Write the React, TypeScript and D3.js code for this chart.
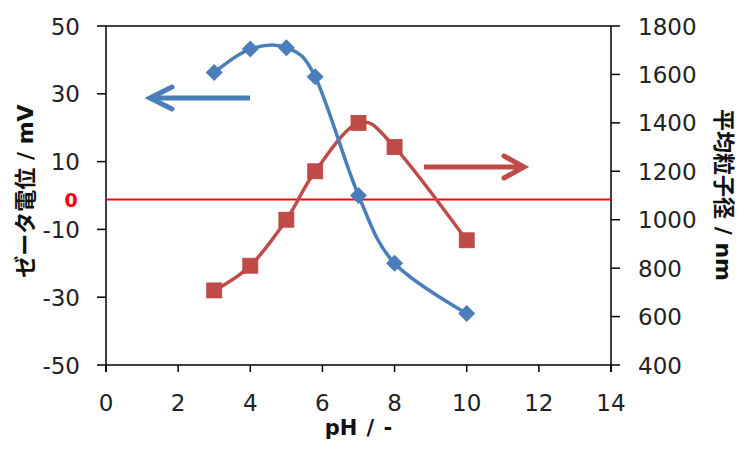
import * as d3 from "d3";

// pH values and readings for both series
const phValues = [3, 4, 5, 5.8, 7, 8, 10];
const zetaMv = [36.3, 43.2, 43.6, 35, 0, -20, -34.8];
const sizeNm = [708, 810, 1000, 1200, 1400, 1300, 915];

const xTicks = [0, 2, 4, 6, 8, 10, 12, 14];
const leftTicks = [50, 30, 10, -10, -30, -50];
const rightTicks = [1800, 1600, 1400, 1200, 1000, 800, 600, 400];

// hand-drawn "0" reference line (sits slightly under the true zero)
const ZERO_LINE = -1.2;

const W = 749;
const H = 449;
const M = { left: 106, right: 138, top: 26, bottom: 84 };

const BLUE = "#4a7ebb";
const RED = "#be4b48";
const FONT = "'DejaVu Sans', Verdana, 'Noto Sans CJK JP', sans-serif";

const App = () => {
  const x = d3.scaleLinear().domain([0, 14]).range([M.left, W - M.right]);
  const yL = d3.scaleLinear().domain([-50, 50]).range([H - M.bottom, M.top]);
  const yR = d3.scaleLinear().domain([400, 1800]).range([H - M.bottom, M.top]);

  const curve = d3.curveCardinal.tension(0);
  const zetaLine = d3
    .line<number>()
    .x((_, i) => x(phValues[i]))
    .y((d) => yL(d))
    .curve(curve);
  const sizeLine = d3
    .line<number>()
    .x((_, i) => x(phValues[i]))
    .y((d) => yR(d))
    .curve(curve);

  const x0 = x(0);
  const x1 = x(14);
  const yTop = M.top;
  const yBot = H - M.bottom;

  return (
    <svg width={W} height={H} style={{ position: "absolute", left: 0, top: 0 }} fontFamily={FONT}>
      <rect width={W} height={H} fill="#fff" />

      {/* frame */}
      <line x1={x0} x2={x1} y1={yTop} y2={yTop} stroke="#000" strokeWidth={1.5} />
      <line x1={x0} x2={x1} y1={yBot} y2={yBot} stroke="#000" strokeWidth={1.5} />
      <line x1={x0} x2={x0} y1={yTop} y2={yBot + 7} stroke="#000" strokeWidth={1.5} />
      <line x1={x1} x2={x1} y1={yTop} y2={yBot + 7} stroke="#000" strokeWidth={1.5} />

      {/* x axis */}
      {xTicks.map((t) => (
        <g key={t}>
          <line x1={x(t)} x2={x(t)} y1={yBot} y2={yBot + 7} stroke="#000" strokeWidth={1.5} />
          <text x={x(t)} y={yBot + 46} textAnchor="middle" fontSize={23} fill="#222">
            {t}
          </text>
        </g>
      ))}
      <text
        x={(x0 + x1) / 2}
        y={435}
        textAnchor="middle"
        fontSize={21}
        fontWeight="bold"
        wordSpacing={2}
        fill="#111"
      >
        pH / -
      </text>

      {/* left axis */}
      {leftTicks.map((t) => (
        <g key={t}>
          <line x1={x0 - 9} x2={x0} y1={yL(t)} y2={yL(t)} stroke="#000" strokeWidth={1.5} />
          <text x={80} y={yL(t) + 8.5} textAnchor="end" fontSize={23} fill="#222">
            {t}
          </text>
        </g>
      ))}
      <text
        transform={`translate(33,191) rotate(-90)`}
        textAnchor="middle"
        fontSize={22}
        fontWeight="bold"
        fill="#111"
      >
        ゼータ電位 / mV
      </text>

      {/* right axis */}
      {rightTicks.map((t) => (
        <g key={t}>
          <line x1={x1} x2={x1 + 9} y1={yR(t)} y2={yR(t)} stroke="#000" strokeWidth={1.5} />
          <text x={638} y={yR(t) + 8.5} textAnchor="start" fontSize={23} fill="#222">
            {t}
          </text>
        </g>
      ))}
      <text
        transform={`translate(716,195) rotate(90)`}
        textAnchor="middle"
        fontSize={22}
        fontWeight="bold"
        fill="#111"
      >
        平均粒子径 / nm
      </text>

      {/* zero reference */}
      <line x1={x0} x2={x1} y1={yL(ZERO_LINE)} y2={yL(ZERO_LINE)} stroke="#ff0000" strokeWidth={2} />
      <text x={71} y={yL(ZERO_LINE) + 7} textAnchor="middle" fontSize={19} fontWeight="bold" fill="#ff0000">
        0
      </text>

      {/* series */}
      <path d={sizeLine(sizeNm) ?? ""} fill="none" stroke={RED} strokeWidth={3.5} />
      {sizeNm.map((v, i) => (
        <rect
          key={i}
          x={x(phValues[i]) - 7.5}
          y={yR(v) - 7.5}
          width={15}
          height={15}
          fill={RED}
          stroke="#b94441"
          strokeWidth={0.8}
        />
      ))}
      <path d={zetaLine(zetaMv) ?? ""} fill="none" stroke={BLUE} strokeWidth={3.5} />
      {zetaMv.map((v, i) => {
        const cx = x(phValues[i]);
        const cy = yL(v);
        const r = 8.5;
        return (
          <path
            key={i}
            d={`M${cx},${cy - r}L${cx + r},${cy}L${cx},${cy + r}L${cx - r},${cy}Z`}
            fill={BLUE}
          />
        );
      })}

      {/* arrows */}
      <g stroke={BLUE} strokeWidth={5} strokeLinecap="round" fill="none">
        <line x1={250} x2={151} y1={98} y2={98} strokeLinecap="butt" />
        <path d="M172,87 L150,98 L172,109" strokeLinejoin="miter" />
      </g>
      <g stroke={RED} strokeWidth={5} strokeLinecap="round" fill="none">
        <line x1={424} x2={522} y1={167} y2={167} strokeLinecap="butt" />
        <path d="M504,156 L524,167 L504,178" strokeLinejoin="miter" />
      </g>
    </svg>
  );
};

export default App;
